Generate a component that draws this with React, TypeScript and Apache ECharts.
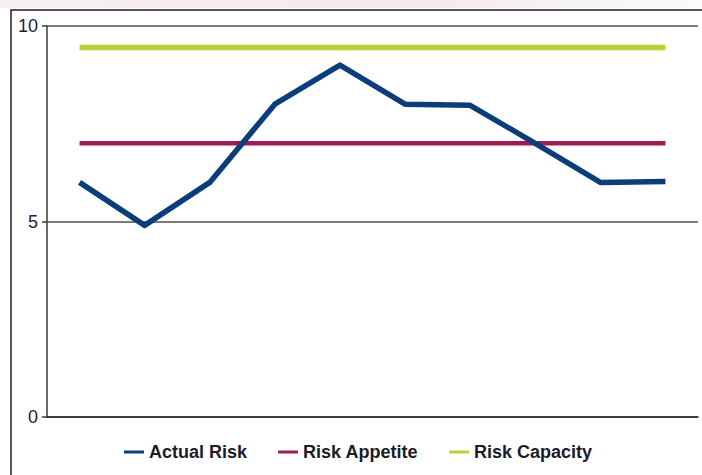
import React, { useEffect, useRef } from "react";
import * as echarts from "echarts";

const categories = ["1", "2", "3", "4", "5", "6", "7", "8", "9", "10"];
const actualRisk = [6, 4.9, 6, 8, 9, 8, 7.97, 7, 6, 6.02];
const riskAppetite = [7, 7, 7, 7, 7, 7, 7, 7, 7, 7];
const riskCapacity = [9.45, 9.45, 9.45, 9.45, 9.45, 9.45, 9.45, 9.45, 9.45, 9.45];
const yTicks = { min: 0, max: 10, interval: 5 };

const FONT = "'Liberation Sans', Arial, sans-serif";

export default function App() {
  const ref = useRef<HTMLDivElement>(null);
  useEffect(() => {
    if (!ref.current) return;
    const chart = echarts.init(ref.current, null, { renderer: "svg" });
    chart.setOption({
      animation: false,
      backgroundColor: "#ffffff",
      graphic: [
        {
          type: "rect",
          shape: { x: 0, y: 0, width: 702, height: 8 },
          style: {
            fill: new echarts.graphic.LinearGradient(0, 0, 1, 0, [
              { offset: 0, color: "#f6f0f0" },
              { offset: 0.6, color: "#f3e9ec" },
              { offset: 1, color: "#fbfbfb" },
            ]),
          },
          silent: true,
          z: -10,
        },
        {
          type: "rect",
          shape: { x: 11, y: 10, width: 720, height: 500 },
          style: { fill: "none", stroke: "#1e1e1e", lineWidth: 1.5 },
          silent: true,
          z: -5,
        },
      ],
      grid: { left: 47, top: 26, right: 4, bottom: 58, containLabel: false },
      legend: {
        bottom: 9,
        left: 119,
        itemWidth: 20,
        itemHeight: 3,
        itemGap: 31,
        icon: "rect",
        textStyle: {
          fontFamily: FONT,
          fontSize: 18,
          fontWeight: "bold",
          color: "#1b1b2b",
        },
        data: ["Actual Risk", "Risk Appetite", "Risk Capacity"],
      },
      xAxis: {
        type: "category",
        data: categories,
        boundaryGap: true,
        axisLine: { show: true, lineStyle: { color: "#2a2a2a", width: 1.5 } },
        axisTick: { show: false },
        axisLabel: { show: false },
        splitLine: { show: false },
      },
      yAxis: {
        type: "value",
        min: yTicks.min,
        max: yTicks.max,
        interval: yTicks.interval,
        axisLine: { show: true, lineStyle: { color: "#3a3a3a", width: 1.5 } },
        axisTick: { show: true, length: 5, lineStyle: { color: "#3a3a3a", width: 1.5 } },
        axisLabel: {
          margin: 9,
          fontFamily: FONT,
          fontSize: 18,
          color: "#1a2340",
        },
        splitLine: { show: true, lineStyle: { color: "#505050", width: 1.5 } },
      },
      series: [
        {
          name: "Risk Capacity",
          type: "line",
          data: riskCapacity,
          symbol: "none",
          lineStyle: { color: "#b4d334", width: 5.5, cap: "butt" },
          itemStyle: { color: "#b4d334" },
          z: 2,
        },
        {
          name: "Risk Appetite",
          type: "line",
          data: riskAppetite,
          symbol: "none",
          lineStyle: { color: "#9f1b55", width: 4.5, cap: "butt" },
          itemStyle: { color: "#9f1b55" },
          z: 3,
        },
        {
          name: "Actual Risk",
          type: "line",
          data: actualRisk,
          symbol: "none",
          lineStyle: { color: "#0b3d7a", width: 5.5, join: "round" },
          itemStyle: { color: "#0b3d7a" },
          z: 4,
        },
      ],
    });
    return () => chart.dispose();
  }, []);
  return <div ref={ref} style={{ width: 702, height: 475, position: "fixed", left: 0, top: 0 }} />;
}
